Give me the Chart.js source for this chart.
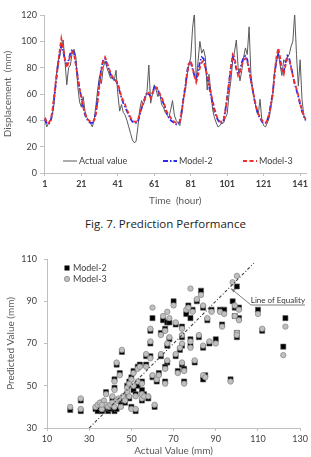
<!DOCTYPE html>
<html>
<head>
<meta charset="utf-8">
<script src="https://cdn.jsdelivr.net/npm/chart.js@4"></script>
<style>
    body { margin: 0; background: #fff; }
    .page { position: relative; width: 311px; height: 457px; overflow: hidden; }
    .box { position: absolute; left: 0; width: 311px; }
    .top-chart { top: 0; height: 212px; }
    .bottom-chart { top: 240px; height: 217px; }
    .caption {
        position: absolute; left: 0; width: 331px; top: 216px;
        text-align: center; font-family: 'Open Sans', sans-serif;
        font-size: 11.5px; color: #222;
    }
</style>
</head>
<body>
<div class="page">
    <div class="box top-chart"><canvas id="timeChart"></canvas></div>
    <div class="caption">Fig. 7. Prediction Performance</div>
    <div class="box bottom-chart"><canvas id="scatterChart"></canvas></div>
</div>
<script>
// ---- Fig. 7 data (hourly displacement, mm) ----
const hours = Array.from({length: 144}, (_, i) => i + 1)
const hourTicks = [1, 21, 41, 61, 81, 101, 121, 141]
const dispTicks = [0, 20, 40, 60, 80, 100, 120]
const seriesNames = ['Actual value', 'Model-2', 'Model-3']

const actualValue = [
    40, 35, 38, 40, 44, 52, 70, 84, 88, 95,
    101, 85, 67, 80, 82, 92, 94, 88, 66, 54,
    50, 58, 47, 42, 40, 38, 35, 40, 52, 64,
    74, 68, 80, 85, 80, 76, 72, 73, 70, 78,
    60, 47, 52, 46, 44, 40, 35, 30, 25, 23,
    24, 35, 48, 55, 52, 56, 62, 82, 53, 60,
    67, 63, 58, 61, 52, 50, 46, 44, 42, 48,
    55, 44, 40, 38, 36, 44, 56, 63, 74, 82,
    88, 110, 122, 69, 85, 100, 91, 94, 88, 63,
    75, 62, 48, 42, 38, 35, 36, 38, 38, 42,
    45, 60, 70, 85, 92, 101, 80, 70, 78, 88,
    95, 90, 111, 75, 62, 55, 48, 44, 56, 40,
    36, 35, 38, 42, 50, 60, 78, 84, 92, 82,
    74, 86, 84, 88, 90, 96, 100, 121, 90, 66,
    86, 56, 44, 40
]
const model2 = [
    41, 38, 37, 39, 44, 56, 68, 80, 90, 97,
    93, 85, 82, 86, 91, 94, 91, 83, 73, 64,
    57, 50, 44, 41, 39, 38, 38, 40, 46, 57,
    70, 80, 86, 87, 83, 79, 75, 72, 71, 70,
    67, 62, 57, 53, 50, 47, 44, 41, 39, 38,
    38, 39, 44, 49, 53, 58, 61, 60, 58, 61,
    65, 66, 63, 59, 56, 53, 49, 45, 42, 40,
    39, 38, 37, 37, 39, 47, 57, 66, 77, 84,
    84, 79, 74, 71, 77, 84, 88, 87, 81, 73,
    66, 59, 53, 47, 43, 40, 38, 38, 40, 48,
    58, 69, 80, 88, 85, 79, 75, 78, 84, 88,
    89, 86, 79, 71, 63, 55, 49, 44, 42, 39,
    38, 38, 40, 45, 53, 61, 75, 86, 90, 86,
    78, 77, 84, 89, 87, 81, 74, 68, 63, 58,
    52, 47, 43, 40
]
const model3 = [
    42, 39, 38, 40, 46, 58, 70, 80, 92, 102,
    95, 86, 80, 84, 90, 92, 90, 82, 72, 64,
    58, 50, 45, 42, 40, 39, 39, 40, 45, 55,
    68, 78, 85, 88, 84, 80, 76, 73, 72, 70,
    68, 63, 58, 55, 52, 48, 45, 42, 40, 39,
    39, 40, 45, 50, 53, 57, 60, 61, 57, 60,
    64, 65, 63, 60, 58, 54, 50, 46, 44, 42,
    40, 39, 38, 38, 39, 46, 56, 64, 76, 83,
    85, 80, 74, 69, 74, 80, 84, 85, 80, 74,
    68, 61, 55, 49, 44, 41, 39, 39, 40, 47,
    57, 68, 80, 90, 88, 80, 74, 77, 82, 86,
    87, 85, 78, 70, 63, 56, 50, 45, 43, 40,
    39, 38, 40, 44, 52, 60, 76, 88, 95, 88,
    78, 75, 82, 87, 86, 80, 74, 68, 64, 59,
    53, 48, 44, 41
]

// ---- scatter data: actual vs predicted (mm) ----
const actualMm = [
    21, 26, 26, 33, 34, 35, 36, 37, 38, 39,
    40, 41, 42, 43, 36, 38, 41, 42, 42, 43,
    44.5, 45.5, 44, 45, 46, 47, 48, 48, 49, 49,
    50, 50, 51, 51, 52, 52, 53, 53, 54, 55,
    55, 55, 56, 57, 57, 58, 59, 59, 60, 59,
    60, 61, 62, 63, 64, 64, 65, 66, 67, 67,
    67, 66, 66, 68, 68, 70, 71, 71, 72, 73,
    74, 74, 74, 74, 75, 75, 76, 77, 78, 78,
    78, 79, 80, 81, 82, 83, 84, 84, 84, 86,
    87, 88, 90, 92, 93, 94, 97, 98, 99, 99,
    100, 101, 101, 100, 100, 110, 112, 123, 122, 85
]
const m2Pred = [
    38.5, 43, 38, 39, 38, 40, 38, 39, 40, 38,
    39, 40, 38, 39, 42, 47, 44, 53, 49, 60,
    56, 66, 43, 41, 44, 42, 50, 46, 52, 44,
    54, 40, 57, 48, 46, 38, 59, 50, 60, 43,
    52, 48, 46, 64, 60, 44, 70, 76, 82, 64,
    54, 40, 52, 56, 64, 75, 81, 77, 80, 69,
    61, 59, 52, 80, 72, 90, 79, 64, 57, 67,
    78, 73, 69, 60, 58, 52, 84, 88, 72, 69,
    82, 86, 61, 90, 73, 95, 87, 68, 53, 81,
    70, 86, 72, 86, 79, 86, 53, 90, 87, 83,
    97, 87, 82, 75, 73, 86, 76, 82, 68.5, 55
]
const m3Pred = [
    40, 44, 39, 40, 41, 42, 39, 43, 41, 40,
    41, 42, 40, 43, 41, 46, 45, 52, 48, 61,
    55, 67, 44, 40, 45, 43, 49, 47, 51, 45,
    53, 39, 56, 50, 45, 39, 58, 52, 59, 44,
    51, 46, 45, 65, 59, 45, 71, 77, 87, 63,
    55, 41, 53, 55, 65, 74, 83, 76, 85, 70,
    62, 58, 51, 82, 73, 88, 80, 65, 56, 68,
    77, 74, 70, 61, 57, 51, 86, 87, 71, 68,
    96, 85, 62, 91, 74, 93, 88, 69, 55, 82,
    71, 85, 70, 85, 78, 84, 52, 99, 88, 83,
    102, 86, 81, 75, 74, 84, 77, 78, 64.5, 54
]
const equalityLine = [30, 108]
const predTicks = [30, 50, 70, 90, 110]
const actualTicks = [10, 30, 50, 70, 90, 110, 130]

Chart.defaults.font.family = "Lato, 'Open Sans', sans-serif"
Chart.defaults.animation = false

const tickColor = '#404040'
const titleColor = '#595959'
const axisColor = '#bfbfbf'

// legend drawn inside plot, like the excel figure
const timeLegend = {
    id: 'timeLegend',
    afterDraw(chart) {
        const ctx = chart.ctx
        const y = 161
        const spots = [63, 163, 243]
        ctx.save()
        ctx.font = '9px Lato'
        ctx.textBaseline = 'middle'
        spots.forEach((x0, i) => {
            const ds = chart.data.datasets[i]
            ctx.strokeStyle = ds.borderColor
            ctx.lineWidth = ds.borderWidth
            ctx.setLineDash(ds.borderDash || [])
            ctx.beginPath()
            ctx.moveTo(x0, y)
            ctx.lineTo(x0 + 14, y)
            ctx.stroke()
            ctx.setLineDash([])
            ctx.fillStyle = tickColor
            ctx.fillText(ds.label, x0 + 16, y + 0.5)
        })
        ctx.restore()
    }
}

new Chart(document.getElementById('timeChart'), {
    type: 'line',
    data: {
        datasets: [{
            label: seriesNames[0],
            data: hours.map((h, i) => ({x: h, y: actualValue[i]})),
            borderColor: '#5a5a5a',
            borderWidth: 1,
            pointRadius: 0,
            order: 3
        }, {
            label: seriesNames[1],
            data: hours.map((h, i) => ({x: h, y: model2[i]})),
            borderColor: '#2b2bf0',
            borderWidth: 1.8,
            borderDash: [5, 2, 1.5, 2],
            pointRadius: 0,
            order: 2
        }, {
            label: seriesNames[2],
            data: hours.map((h, i) => ({x: h, y: model3[i]})),
            borderColor: '#f0302a',
            borderWidth: 1.8,
            borderDash: [4, 2.5],
            pointRadius: 0,
            order: 1
        }]
    },
    options: {
        responsive: true,
        maintainAspectRatio: false,
        layout: { padding: { top: 15, right: 1, left: 0, bottom: 0 } },
        plugins: { legend: { display: false }, tooltip: { enabled: false } },
        scales: {
            x: {
                type: 'linear',
                min: 0.5,
                max: 144.5,
                afterBuildTicks: (scale) => { scale.ticks = hourTicks.map(v => ({value: v})) },
                afterFit: (scale) => { scale.height = 39 },
                ticks: { color: tickColor, font: { size: 9, weight: 'bold' }, padding: 3, maxRotation: 0, autoSkip: false },
                grid: { display: true, drawOnChartArea: false, tickLength: 3, color: axisColor },
                border: { color: axisColor },
                title: { display: true, text: 'Time  (hour)', color: titleColor, font: { size: 10 }, padding: { top: 0, bottom: 5 } }
            },
            y: {
                min: 0,
                max: 120,
                afterBuildTicks: (scale) => { scale.ticks = dispTicks.map(v => ({value: v})) },
                afterFit: (scale) => { scale.width = 44 },
                ticks: { color: tickColor, font: { size: 9 }, padding: 3 },
                grid: { display: true, drawOnChartArea: false, tickLength: 4, color: axisColor },
                border: { color: axisColor },
                title: { display: true, text: 'Displacement  (mm)', color: titleColor, font: { size: 10 }, padding: { top: 2, bottom: 0 } }
            }
        }
    },
    plugins: [timeLegend]
})

// legend + "Line of Equality" note for the scatter
const scatterNotes = {
    id: 'scatterNotes',
    afterDraw(chart) {
        const ctx = chart.ctx
        const xs = chart.scales.x, ys = chart.scales.y
        ctx.save()
        ctx.font = '9px Lato'
        ctx.textBaseline = 'middle'
        // legend
        ctx.fillStyle = '#000'
        ctx.fillRect(64.5, 25.5, 5, 5)
        ctx.fillStyle = tickColor
        ctx.fillText('Model-2', 73, 28.5)
        ctx.beginPath()
        ctx.arc(67, 39, 2.7, 0, Math.PI * 2)
        ctx.fillStyle = '#c0c0c0'
        ctx.fill()
        ctx.strokeStyle = '#8c8c8c'
        ctx.lineWidth = 0.8
        ctx.stroke()
        ctx.fillStyle = tickColor
        ctx.fillText('Model-3', 73, 39.5)
        // pointer to the 1:1 line
        const ax = xs.getPixelForValue(96.5), ay = ys.getPixelForValue(96.5)
        ctx.strokeStyle = '#7f7f7f'
        ctx.lineWidth = 1
        ctx.beginPath()
        ctx.moveTo(ax + 2, ay + 1.5)
        ctx.lineTo(251, 65)
        ctx.lineTo(305, 65)
        ctx.stroke()
        ctx.beginPath()
        ctx.moveTo(ax + 1, ay + 1)
        ctx.lineTo(ax + 6, ay + 2)
        ctx.lineTo(ax + 4, ay + 5)
        ctx.closePath()
        ctx.fillStyle = '#7f7f7f'
        ctx.fill()
        ctx.fillStyle = '#333'
        ctx.font = '8px Lato'
        ctx.textAlign = 'right'
        ctx.fillText('Line of Equality', 305, 60)
        ctx.restore()
    }
}

new Chart(document.getElementById('scatterChart'), {
    type: 'scatter',
    data: {
        datasets: [{
            label: 'Model-3',
            data: actualMm.map((a, i) => ({x: a, y: m3Pred[i]})),
            pointStyle: 'circle',
            pointRadius: 2.7,
            backgroundColor: '#c0c0c0',
            borderColor: '#8c8c8c',
            borderWidth: 0.8,
            order: 1
        }, {
            label: 'Model-2',
            data: actualMm.map((a, i) => ({x: a, y: m2Pred[i]})),
            pointStyle: 'rect',
            pointRadius: 3.6,
            backgroundColor: '#000000',
            borderColor: '#555555',
            borderWidth: 0.6,
            order: 2
        }, {
            label: 'Line of Equality',
            data: equalityLine.map(v => ({x: v, y: v})),
            showLine: true,
            borderColor: '#404040',
            borderWidth: 1.1,
            borderDash: [3, 2, 1, 2],
            pointRadius: 0,
            order: 0
        }]
    },
    options: {
        responsive: true,
        maintainAspectRatio: false,
        layout: { padding: { top: 19, right: 8, left: 0, bottom: 0 } },
        plugins: { legend: { display: false }, tooltip: { enabled: false } },
        scales: {
            x: {
                min: 10,
                max: 130,
                afterBuildTicks: (scale) => { scale.ticks = actualTicks.map(v => ({value: v})) },
                afterFit: (scale) => { scale.height = 29 },
                ticks: { color: tickColor, font: { size: 9 }, padding: 3, maxRotation: 0, autoSkip: false },
                grid: { display: true, drawOnChartArea: false, tickLength: 3, color: axisColor },
                border: { color: axisColor },
                title: { display: true, text: 'Actual Value (mm)', color: titleColor, font: { size: 10 }, padding: 0 }
            },
            y: {
                min: 30,
                max: 110,
                afterBuildTicks: (scale) => { scale.ticks = predTicks.map(v => ({value: v})) },
                afterFit: (scale) => { scale.width = 47 },
                ticks: { color: tickColor, font: { size: 9 }, padding: 7 },
                grid: { display: true, drawOnChartArea: false, tickLength: 3, color: axisColor },
                border: { color: axisColor },
                title: { display: true, text: 'Predicted Value (mm)', color: titleColor, font: { size: 10 }, padding: { top: 5, bottom: 0 } }
            }
        }
    },
    plugins: [scatterNotes]
})
</script>
</body>
</html>
